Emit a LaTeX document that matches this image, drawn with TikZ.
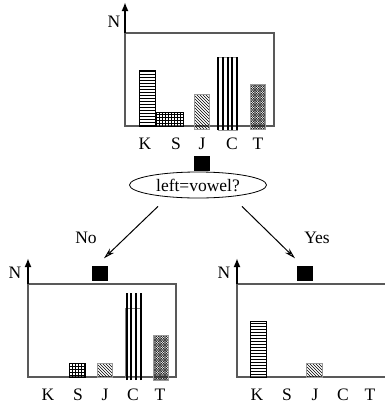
\documentclass[tikz,border=0pt]{standalone}
\usepackage{fontspec}
\setmainfont{Liberation Serif}
\usetikzlibrary{arrows.meta,patterns,shapes.geometric}

\pgfdeclarepatternformonly{finecross}{\pgfqpoint{-1pt}{-1pt}}{\pgfqpoint{3.5pt}{3.5pt}}{\pgfqpoint{2.5pt}{2.5pt}}{
  \pgfsetlinewidth{0.4pt}
  \pgfpathmoveto{\pgfqpoint{0pt}{0pt}}\pgfpathlineto{\pgfqpoint{2.5pt}{2.5pt}}
  \pgfpathmoveto{\pgfqpoint{0pt}{2.5pt}}\pgfpathlineto{\pgfqpoint{2.5pt}{0pt}}
  \pgfusepath{stroke}}

\begin{document}
\begin{tikzpicture}[x=1pt,y=-1pt,
  frame/.style={draw=black!65,line width=1.3pt},
  axis/.style={-{Latex[length=9pt,width=7pt]},line width=1.8pt},
  bar/.style={draw=black,line width=0.6pt},
  vbar/.style={line width=1.2pt},
  lbl/.style={font=\fontsize{17.5}{17.5}\selectfont,inner sep=0pt},
  sq/.style={fill=black,minimum width=16pt,minimum height=15pt,inner sep=0pt},
  test/.style={ellipse,draw,line width=0.8pt,minimum width=137pt,minimum height=26pt,inner sep=0pt,font=\fontsize{17.5}{17.5}\selectfont},
  arr/.style={-{Stealth[open,length=11pt,width=6pt]},line width=1pt}
]
\useasboundingbox (0,0) rectangle (384,405);

% top histogram
\draw[frame] (125,126) rectangle (274,33);
\draw[axis] (125,33) -- (125,2);
\node[lbl] (nTop) at (114,22) {N};
\draw[bar,pattern=horizontal lines] (139,126) rectangle (155,70);
\draw[bar,pattern=grid] (155,126) rectangle (183,112);
\draw[draw=black!40,pattern=north west lines] (194,129) rectangle (209,94);
\draw[draw=black!40] (218,130) rectangle (237,57);
\foreach \x in {218,223,228,232,237} \draw[vbar] (\x,130) -- (\x,57);
\draw[draw=black!40,pattern=finecross,pattern color=black!85] (250,129) rectangle (265,84);
\foreach \l/\x in {K/145,S/176,J/202,C/232,T/258}
  \node[lbl] (top\l) at (\x,144) {\l};

% question
\node[sq] (sqTop) at (202,163) {};
\node[test] (test) at (198,185) {left=vowel?};

% bottom left histogram (No)
\node[sq] (sqL) at (100,273) {};
\draw[frame] (28,377) rectangle (176,284);
\draw[axis] (28,284) -- (28,258);
\node[lbl] (nL) at (15,273) {N};
\draw[bar,pattern=grid] (69,377) rectangle (85,363);
\draw[draw=black!40,pattern=north west lines] (97,377) rectangle (112,363);
\draw[draw=black!50,line width=0.5pt] (125,377) rectangle (140,308);
\foreach \x in {127,131,136,141} \draw[vbar] (\x,380) -- (\x,293);
\draw[draw=black!40,pattern=finecross,pattern color=black!85] (153,380) rectangle (168,335);
\foreach \l/\x in {K/48,S/78,J/105,C/133,T/160}
  \node[lbl] (left\l) at (\x,395) {\l};

% bottom right histogram (Yes)
\node[sq] (sqR) at (305,273) {};
\draw[frame] (237,377) rectangle (386,284);
\draw[axis] (237,284) -- (237,258);
\node[lbl] (nR) at (224,273) {N};
\draw[bar,pattern=horizontal lines] (250,377) rectangle (266,321);
\draw[draw=black!40,pattern=north west lines] (306,377) rectangle (322,363);
\foreach \l/\x in {K/257,S/287,J/315,C/343,T/370}
  \node[lbl] (right\l) at (\x,395) {\l};

% branches
\draw[arr] ([xshift=-40pt,yshift=-8pt]test.south) -- ([xshift=4pt,yshift=7pt]sqL.north);
\draw[arr] ([xshift=44pt,yshift=-8pt]test.south) -- ([xshift=-10pt,yshift=7pt]sqR.north);
\node[lbl] (no) at (86,238) {No};
\node[lbl] (yes) at (317,238) {Yes};
\end{tikzpicture}
\end{document}
